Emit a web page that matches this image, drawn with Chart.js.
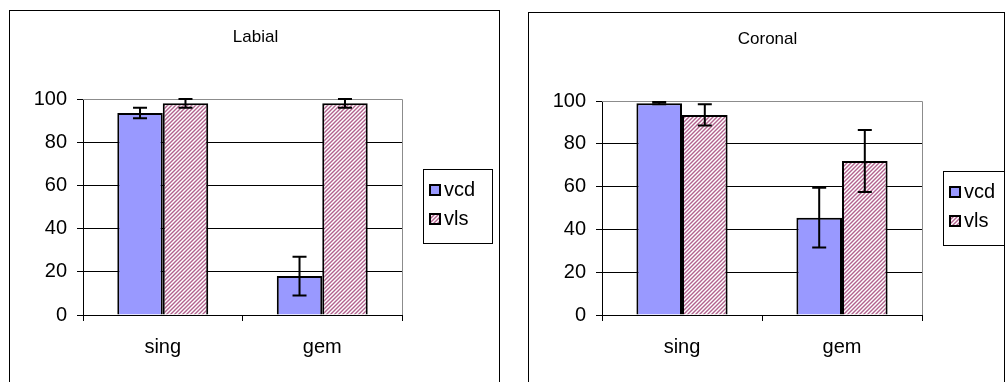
<!DOCTYPE html>
<html>
<head>
<meta charset="utf-8">
<script src="https://cdn.jsdelivr.net/npm/chart.js@4.4.0/dist/chart.umd.min.js"></script>
<style>
  html, body { margin: 0; padding: 0; background: #fff; overflow: hidden; }
  body { width: 1005px; height: 382px; position: relative; }
  .frame { position: absolute; border: 1px solid #000; border-bottom: none; background: #fff; }
  #box-labial { left: 9px; top: 10px; width: 489px; height: 380px; }
  #box-coronal { left: 528px; top: 12px; width: 475px; height: 380px; }
  canvas { display: block; }
</style>
</head>
<body>
<div class="frame" id="box-labial"><canvas id="labialChart" width="489" height="371"></canvas></div>
<div class="frame" id="box-coronal"><canvas id="coronalChart" width="475" height="369"></canvas></div>

<script>
// =============================
// Data
// =============================
const categories = ["sing", "gem"];
const seriesNames = ["vcd", "vls"];
const yTicks = [0, 20, 40, 60, 80, 100];

const labialVcd = [93.5, 18];
const labialVcdErr = [2.4, 9];
const labialVls = [98, 98];
const labialVlsErr = [2, 2];

const coronalVcd = [99, 45.5];
const coronalVcdErr = [0.5, 14];
const coronalVls = [93.5, 72];
const coronalVlsErr = [5, 14.5];

// =============================
// Styles
// =============================
const fontFamily = "'Liberation Sans', Arial, sans-serif";
Chart.defaults.font.family = fontFamily;
Chart.defaults.color = "#000";

const vcdColor = "#9999ff";

function makeHatch() {
  const c = document.createElement("canvas");
  c.width = 4; c.height = 4;
  const g = c.getContext("2d");
  g.fillStyle = "#fff";
  g.fillRect(0, 0, 4, 4);
  g.strokeStyle = "#b2628e";
  g.lineWidth = 1.4;
  g.beginPath();
  g.moveTo(-1, 5); g.lineTo(5, -1);
  g.moveTo(-1, 1); g.lineTo(1, -1);
  g.moveTo(3, 5); g.lineTo(5, 3);
  g.stroke();
  return g.createPattern(c, "repeat");
}
const vlsPattern = makeHatch();

// =============================
// Plugins
// =============================
const plotFrame = {
  id: "plotFrame",
  beforeDatasetsDraw(chart) {
    const { ctx, chartArea: a } = chart;
    ctx.save();
    ctx.strokeStyle = "#8c8c8c";
    ctx.lineWidth = 1;
    ctx.beginPath();
    ctx.moveTo(a.left, a.top + 0.5);
    ctx.lineTo(a.right + 0.5, a.top + 0.5);
    ctx.lineTo(a.right + 0.5, a.bottom);
    ctx.stroke();
    ctx.restore();
  }
};

const errorBars = {
  id: "errorBars",
  afterDatasetsDraw(chart) {
    const ctx = chart.ctx;
    const y = chart.scales.y;
    ctx.save();
    ctx.strokeStyle = "#000";
    ctx.lineWidth = 2;
    chart.data.datasets.forEach((ds, i) => {
      chart.getDatasetMeta(i).data.forEach((bar, j) => {
        const v = ds.data[j], e = ds.errors[j];
        const top = y.getPixelForValue(v + e);
        const bot = y.getPixelForValue(v - e);
        const cap = 7;
        ctx.beginPath();
        ctx.moveTo(bar.x, top); ctx.lineTo(bar.x, bot);
        ctx.moveTo(bar.x - cap, top); ctx.lineTo(bar.x + cap, top);
        ctx.moveTo(bar.x - cap, bot); ctx.lineTo(bar.x + cap, bot);
        ctx.stroke();
      });
    });
    ctx.restore();
  }
};

// title centred on the whole frame, like the reference
const frameTitle = {
  id: "frameTitle",
  afterDraw(chart, args, opts) {
    const ctx = chart.ctx;
    ctx.save();
    ctx.font = "17px " + fontFamily;
    ctx.fillStyle = "#000";
    ctx.textAlign = "center";
    ctx.textBaseline = "middle";
    ctx.fillText(opts.text, chart.width / 2 + 1, opts.y);
    ctx.restore();
  }
};

const boxLegend = {
  id: "boxLegend",
  afterDraw(chart, args, opts) {
    const { ctx, chartArea: a } = chart;
    const x = a.right + opts.gap, y = opts.top;
    ctx.save();
    ctx.strokeStyle = "#000";
    ctx.lineWidth = 1;
    ctx.strokeRect(x + 0.5, y + 0.5, opts.width, opts.height);
    ctx.font = "20px " + fontFamily;
    ctx.textBaseline = "middle";
    chart.data.datasets.forEach((ds, i) => {
      const sy = y + 16 + i * 29;
      ctx.fillStyle = ds.backgroundColor;
      ctx.fillRect(x + 7, sy, 10, 10);
      ctx.lineWidth = 2;
      ctx.strokeRect(x + 7, sy, 10, 10);
      ctx.fillStyle = "#000";
      ctx.fillText(ds.label, x + 21, sy + 5);
    });
    ctx.restore();
  }
};

// =============================
// Charts
// =============================
function makeChart(id, title, vcd, vcdErr, vls, vlsErr, padRight) {
  return new Chart(document.getElementById(id), {
    type: "bar",
    data: {
      labels: categories,
      datasets: [
        { label: seriesNames[0], data: vcd, errors: vcdErr, backgroundColor: vcdColor,
          borderColor: "#000", borderWidth: 2, categoryPercentage: 0.57, barPercentage: 1 },
        { label: seriesNames[1], data: vls, errors: vlsErr, backgroundColor: vlsPattern,
          borderColor: "#000", borderWidth: 2, categoryPercentage: 0.57, barPercentage: 1 }
      ]
    },
    options: {
      responsive: false,
      animation: false,
      layout: { padding: { left: 0, right: padRight, top: 88, bottom: 0 } },
      plugins: {
        legend: { display: false },
        tooltip: { enabled: false },
        title: { display: false },
        frameTitle: { text: title, y: 26 },
        boxLegend: { gap: 21, top: 158, width: 69, height: 74 }
      },
      scales: {
        x: {
          grid: { offset: true, drawOnChartArea: false, tickLength: 6, tickColor: "#000" },
          border: { color: "#000", width: 1 },
          ticks: { color: "#000", font: { size: 20 }, padding: 14 },
          afterFit: s => { s.height = 67; }
        },
        y: {
          min: 0, max: 100,
          afterBuildTicks: s => { s.ticks = yTicks.map(v => ({ value: v })); },
          grid: { color: c => (c.tick && c.tick.value === 100) ? "rgba(0,0,0,0)" : "#000",
                  tickColor: "#000", tickLength: 6, lineWidth: 1 },
          border: { color: "#000", width: 1 },
          ticks: { color: "#000", font: { size: 20 }, padding: 10 },
          afterFit: s => { s.width = 73; }
        }
      }
    },
    plugins: [plotFrame, errorBars, frameTitle, boxLegend]
  });
}

window.addEventListener("DOMContentLoaded", () => {
  makeChart("labialChart", "Labial", labialVcd, labialVcdErr, labialVls, labialVlsErr, 97);
  makeChart("coronalChart", "Coronal", coronalVcd, coronalVcdErr, coronalVls, coronalVlsErr, 82);
});
</script>
</body>
</html>
